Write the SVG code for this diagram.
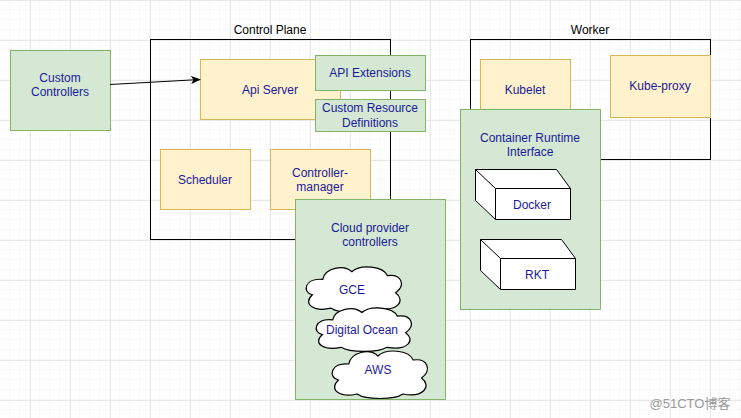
<svg xmlns="http://www.w3.org/2000/svg" width="741" height="418" viewBox="0 0 741 418">
<defs>
<pattern id="minor" width="10" height="10" patternUnits="userSpaceOnUse"><path d="M10 0V10H0" fill="none" stroke="#f3f3f3" stroke-width="1"/></pattern>
<pattern id="major" x="30" y="0" width="40" height="40" patternUnits="userSpaceOnUse"><path d="M0.5 0V40M0 0.5H40" fill="none" stroke="#e8e8e8" stroke-width="1"/></pattern>
<marker id="arr" markerWidth="10" markerHeight="8" refX="9" refY="4" orient="auto" markerUnits="userSpaceOnUse"><path d="M0 0L10 4L0 8L2.5 4Z" fill="#000"/></marker>
<symbol id="cloud" viewBox="0 0 100 48" preserveAspectRatio="none" overflow="visible"><path d="M20 14C2 12 0 28 10 30C0 40 12 48 28 44C36 50 64 50 72 44C92 48 100 36 90 28C100 20 96 8 82 10C78 0 56 -2 48 6C40 -2 22 2 20 14Z" fill="#fff" stroke="#000" stroke-width="1.2" vector-effect="non-scaling-stroke"/></symbol>
</defs>
<style>
text{font-family:"Liberation Sans",Arial,sans-serif;font-size:12px;text-anchor:middle;fill:#1a1a9a}
.k{fill:#000}
.g{fill:#d5e8d4;stroke:#82b366}
.y{fill:#fff2cc;stroke:#d6b656}
.b{fill:none;stroke:#000}
.w{fill:#fff;stroke:#000}
</style>
<rect width="741" height="418" fill="#fff"/>
<rect width="741" height="418" fill="url(#minor)"/>
<rect width="741" height="418" fill="url(#major)"/>
<g id="control-plane"><rect class="b" x="150.5" y="39.5" width="240" height="200" fill="#fff"/><text class="k" x="270" y="34">Control Plane</text></g>
<g id="worker"><rect class="b" x="470.5" y="39.5" width="240" height="120" fill="#fff"/><text class="k" x="590" y="34">Worker</text></g>
<g id="custom-controllers"><rect class="g" x="10.5" y="50.5" width="100" height="80"/><text x="60" y="82">Custom</text><text x="60" y="96">Controllers</text></g>
<g id="api-server"><rect class="y" x="200.5" y="59.5" width="140" height="60"/><text x="270" y="94">Api Server</text></g>
<g id="api-extensions"><rect class="g" x="315.5" y="55.5" width="110" height="35"/><text x="370" y="77">API Extensions</text></g>
<g id="crd"><rect class="g" x="315.5" y="99.5" width="110" height="32"/><text x="370" y="112">Custom Resource</text><text x="370" y="127">Definitions</text></g>
<g id="scheduler"><rect class="y" x="160.5" y="149.5" width="90" height="60"/><text x="205" y="184">Scheduler</text></g>
<g id="controller-manager"><rect class="y" x="270.5" y="149.5" width="100" height="60"/><text x="320" y="177">Controller-</text><text x="320" y="191">manager</text></g>
<g id="kubelet"><rect class="y" x="480.5" y="59.5" width="90" height="60"/><text x="525" y="94">Kubelet</text></g>
<g id="kube-proxy"><rect class="y" x="610.5" y="55.5" width="100" height="62"/><text x="660" y="90">Kube-proxy</text></g>
<g id="cri"><rect class="g" x="460.5" y="109.5" width="140" height="200"/><text x="530" y="142">Container Runtime</text><text x="530" y="156">Interface</text></g>
<g id="docker"><path class="w" d="M475.5 169.5H556.5L570.5 188.5V219.5H495.5L475.5 200.5Z"/><path class="b" d="M475.5 169.5L495.5 188.5H570.5M495.5 188.5V219.5"/><text x="532" y="209">Docker</text></g>
<g id="rkt"><path class="w" d="M480.5 239.5H561.5L575.5 258.5V289.5H500.5L480.5 270.5Z"/><path class="b" d="M480.5 239.5L500.5 258.5H575.5M500.5 258.5V289.5"/><text x="537" y="279">RKT</text></g>
<g id="cloud-provider"><rect class="g" x="295.5" y="199.5" width="150" height="200"/><text x="370" y="232">Cloud provider</text><text x="370" y="246">controllers</text></g>
<g id="gce"><use href="#cloud" x="302" y="266" width="104" height="46"/><text x="352" y="294">GCE</text></g>
<g id="digital-ocean"><use href="#cloud" x="312" y="307" width="104" height="44"/><text x="362" y="334">Digital Ocean</text></g>
<g id="aws"><use href="#cloud" x="328" y="350" width="104" height="48"/><text x="378" y="374">AWS</text></g>
<g id="connectors"><path d="M110 84.5L200 79.5" stroke="#000" stroke-width="1" fill="none" marker-end="url(#arr)"/></g>
<text x="690" y="408" style="fill:#999;font-size:13px;font-family:'Liberation Sans','Noto Sans CJK SC',sans-serif">@51CTO博客</text>
</svg>
